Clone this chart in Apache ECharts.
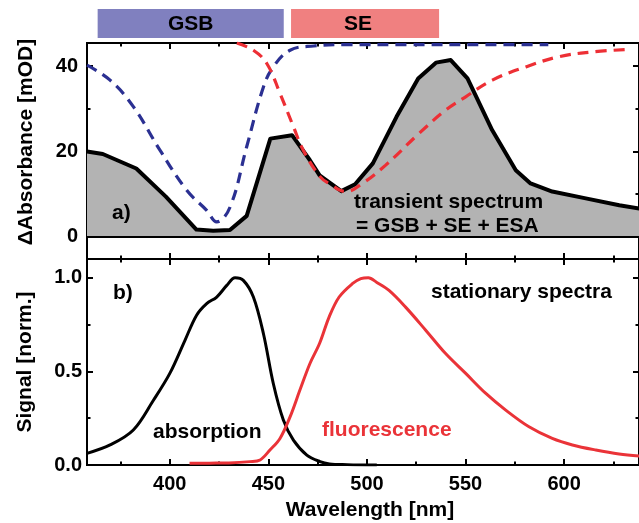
<!DOCTYPE html>
<html>
<head>
<meta charset="utf-8">
<title>Transient and stationary spectra</title>
<script src="https://cdn.jsdelivr.net/npm/echarts@6/dist/echarts.min.js"></script>
<style>
  html, body { margin: 0; padding: 0; background: #fff; }
  #chart { width: 639px; height: 523px; }
</style>
</head>
<body>
<div id="chart"></div>
<script>
// ---- data ----
// Spectral bands marked above panel a)
const bandNames = ['GSB', 'SE'];
const bandStart = [363.4, 461.5];
const bandEnd = [457.8, 536.6];

// a) transient spectrum (mOD)
const transientWl = [358, 366, 383, 398, 413.5, 422, 430.5, 439, 451, 462, 471, 476, 487, 494, 503, 515, 526, 535, 542.5, 551, 563.5, 575.5, 583, 594, 611, 628, 640];
const transientVal = [20.0, 19.4, 16.0, 9.4, 1.7, 1.4, 1.6, 4.9, 23.0, 23.8, 18.0, 14.4, 10.7, 12.3, 17.2, 28.1, 37.1, 40.8, 41.4, 37.1, 25.0, 15.6, 12.5, 10.6, 9.0, 7.4, 6.5];

// a) ground state bleach contribution (dashed blue)
const gsbWl = [358, 369.7, 381.5, 395, 408.6, 418.7, 423.8, 430.6, 439, 447.5, 452.5, 461, 473, 490, 520, 560, 592];
const gsbVal = [40.2, 36.7, 30.5, 20.3, 10.9, 6.2, 3.5, 7.0, 21.1, 35.1, 39.8, 43.7, 44.7, 45.0, 45.0, 45.0, 45.0];

// a) stimulated emission contribution (dashed red)
const seWl = [434, 442.4, 449.2, 455.9, 462.7, 467.7, 476.2, 480.8, 489.3, 497.7, 509.5, 526.4, 540, 550.1, 563.6, 580.6, 597.5, 614.4, 632];
const seVal = [45.4, 43.7, 40.6, 33.6, 25.8, 20.3, 14.1, 12.5, 10.6, 12.5, 16.8, 24.2, 29.7, 32.8, 36.7, 39.8, 42.2, 43.3, 43.9];

// b) stationary absorption (normalised)
const absWl = [358, 369.7, 381.5, 391.7, 400, 407.7, 413.6, 418.7, 423.8, 428.9, 433.1, 437.3, 442.4, 447.5, 452.5, 457.6, 462.7, 469.5, 476.2, 481, 490, 500, 505];
const absVal = [0.062, 0.107, 0.187, 0.346, 0.489, 0.666, 0.80, 0.862, 0.897, 0.959, 1.0, 0.986, 0.897, 0.701, 0.435, 0.24, 0.133, 0.053, 0.018, 0.006, 0.002, 0.0, 0.0];

// b) stationary fluorescence (normalised)
const fluoWl = [410, 420, 430, 440.7, 445.8, 450.8, 455.9, 461, 466, 471.1, 476, 480.8, 485.9, 492.6, 496.9, 500.7, 505, 511.2, 519.6, 529.8, 539.9, 550.1, 560.3, 570.4, 582.2, 594, 604.2, 616.1, 627.9, 640];
const fluoVal = [0.009, 0.01, 0.011, 0.018, 0.027, 0.08, 0.142, 0.257, 0.40, 0.542, 0.65, 0.79, 0.897, 0.968, 0.995, 1.0, 0.975, 0.932, 0.843, 0.72, 0.595, 0.489, 0.382, 0.293, 0.204, 0.142, 0.107, 0.08, 0.059, 0.046];

// axis ticks and labels
const xMajor = [400, 450, 500, 550, 600];
const xMinor = [375, 425, 475, 525, 575, 625];
const xLabels = [400, 450, 500, 550, 600];
const yTopMajor = [0, 20, 40];
const yTopMinor = [10, 30];
const yTopLabels = [0, 20, 40];
const yBotMajor = [0, 0.5, 1.0];
const yBotMinor = [0.25, 0.75];
const yBotLabels = [0, 0.5, 1.0];

// ---- helpers ----
const FONT = '"Liberation Sans", Arial, Helvetica, sans-serif';
const TEXT_FONT = 'bold 21px ' + FONT;
const zip = (xs, ys) => xs.map((x, i) => [x, ys[i]]);
const X_MIN = 358, X_MAX = 638;

function xAxis(grid, position, ticks, len, labels) {
  return {
    type: 'value', gridIndex: grid, position: position, min: X_MIN, max: X_MAX,
    axisLine: { show: true, onZero: false, lineStyle: { color: '#000', width: 2 } },
    axisTick: { show: true, inside: true, length: len, customValues: ticks,
      lineStyle: { color: '#000', width: 2 } },
    axisLabel: labels ? {
      show: true, customValues: labels, margin: 9,
      color: '#000', fontSize: 20, fontWeight: 'bold', fontFamily: FONT
    } : { show: false },
    splitLine: { show: false }
  };
}

function yAxis(grid, position, min, max, ticks, len, labels, fmt, margin) {
  return {
    type: 'value', gridIndex: grid, position: position, min: min, max: max,
    axisLine: { show: true, onZero: false, lineStyle: { color: '#000', width: 2 } },
    axisTick: { show: true, inside: true, length: len, customValues: ticks,
      lineStyle: { color: '#000', width: 2 } },
    axisLabel: labels ? {
      show: true, customValues: labels, margin: margin, formatter: fmt,
      color: '#000', fontSize: 20, fontWeight: 'bold', fontFamily: FONT
    } : { show: false },
    splitLine: { show: false }
  };
}

const bandColors = ['#8080bf', '#f08080'];
const bandTextShift = [0, -7];

const chart = echarts.init(document.getElementById('chart'), null, { renderer: 'canvas' });

const option = {
  animation: false,
  backgroundColor: '#fff',
  grid: [
    { left: 87, top: 9, width: 554, height: 29 },    // bands
    { left: 87, top: 43, width: 554, height: 216 },  // a)
    { left: 87, top: 259, width: 554, height: 206 }  // b)
  ],
  xAxis: [
    { type: 'value', gridIndex: 0, min: X_MIN, max: X_MAX, show: false },
    xAxis(1, 'bottom', xMajor, 6),          // 1
    xAxis(1, 'bottom', xMinor, 3.5),        // 2
    xAxis(1, 'top', xMajor, 6),             // 3
    xAxis(1, 'top', xMinor, 3.5),           // 4
    xAxis(2, 'bottom', xMajor, 6, xLabels), // 5
    xAxis(2, 'bottom', xMinor, 3.5),        // 6
    xAxis(2, 'top', xMajor, 6),             // 7
    xAxis(2, 'top', xMinor, 3.5)            // 8
  ],
  yAxis: [
    { type: 'value', gridIndex: 0, min: 0, max: 1, show: false },
    yAxis(1, 'left', -5.2, 45.4, yTopMajor, 6, yTopLabels, v => String(v), 9),   // 1
    yAxis(1, 'left', -5.2, 45.4, yTopMinor, 3.5),                               // 2
    yAxis(1, 'right', -5.2, 45.4, yTopMajor, 6),                                // 3
    yAxis(1, 'right', -5.2, 45.4, yTopMinor, 3.5),                              // 4
    yAxis(2, 'left', 0, 1.1, yBotMajor, 6, yBotLabels, v => v.toFixed(1), 5),   // 5
    yAxis(2, 'left', 0, 1.1, yBotMinor, 3.5),                                   // 6
    yAxis(2, 'right', 0, 1.1, yBotMajor, 6),                                    // 7
    yAxis(2, 'right', 0, 1.1, yBotMinor, 3.5)                                   // 8
  ],
  series: [
    {
      name: 'bands', type: 'custom', xAxisIndex: 0, yAxisIndex: 0,
      data: bandNames.map((n, i) => [bandStart[i], bandEnd[i]]),
      renderItem: function (params, api) {
        const i = params.dataIndex;
        const p0 = api.coord([api.value(0), 1]);
        const p1 = api.coord([api.value(1), 0]);
        return {
          type: 'rect',
          shape: { x: p0[0], y: p0[1], width: p1[0] - p0[0], height: p1[1] - p0[1] },
          style: { fill: bandColors[i] },
          textContent: {
            type: 'text',
            style: { text: bandNames[i], font: TEXT_FONT, fill: '#000' }
          },
          textConfig: { position: 'inside', offset: [bandTextShift[i], 1] }
        };
      },
      silent: true
    },
    {
      name: 'transient spectrum', type: 'line', xAxisIndex: 1, yAxisIndex: 1,
      data: zip(transientWl, transientVal),
      symbol: 'none', smooth: false,
      lineStyle: { color: '#000', width: 4, join: 'round' },
      areaStyle: { color: '#b3b3b3', opacity: 1 },
      markLine: {
        silent: true, symbol: 'none', label: { show: false },
        lineStyle: { color: '#000', width: 2, type: 'solid' },
        data: [{ yAxis: 0 }]
      },
      z: 2
    },
    {
      name: 'GSB', type: 'line', xAxisIndex: 1, yAxisIndex: 1,
      data: zip(gsbWl, gsbVal), symbol: 'none', smooth: 0.4,
      lineStyle: { color: '#2b3092', width: 3.2, type: [11, 7] },
      z: 3
    },
    {
      name: 'SE', type: 'line', xAxisIndex: 1, yAxisIndex: 1,
      data: zip(seWl, seVal), symbol: 'none', smooth: 0.4,
      lineStyle: { color: '#ed2f35', width: 3.2, type: [11, 7] },
      z: 3
    },
    {
      name: 'absorption', type: 'line', xAxisIndex: 5, yAxisIndex: 5,
      data: zip(absWl, absVal), symbol: 'none', smooth: 0.35,
      lineStyle: { color: '#000', width: 3 },
      z: 3
    },
    {
      name: 'fluorescence', type: 'line', xAxisIndex: 5, yAxisIndex: 5,
      data: zip(fluoWl, fluoVal), symbol: 'none', smooth: 0.35,
      lineStyle: { color: '#ea3338', width: 3 },
      z: 3
    }
  ],
  graphic: [
    { type: 'text', x: 26, y: 142, rotation: Math.PI / 2,
      style: { text: 'ΔAbsorbance [mOD]', font: TEXT_FONT, fill: '#000',
        textAlign: 'center', textVerticalAlign: 'middle' } },
    { type: 'text', x: 25, y: 362, rotation: Math.PI / 2,
      style: { text: 'Signal [norm.]', font: TEXT_FONT, fill: '#000',
        textAlign: 'center', textVerticalAlign: 'middle' } },
    { type: 'text', x: 370, y: 510,
      style: { text: 'Wavelength [nm]', font: TEXT_FONT, fill: '#000',
        textAlign: 'center', textVerticalAlign: 'middle' } },
    { type: 'text', x: 112, y: 213, z: 10,
      style: { text: 'a)', font: TEXT_FONT, fill: '#000',
        textAlign: 'left', textVerticalAlign: 'middle' } },
    { type: 'text', x: 354, y: 202, z: 10,
      style: { text: 'transient spectrum', font: TEXT_FONT, fill: '#000',
        textAlign: 'left', textVerticalAlign: 'middle' } },
    { type: 'text', x: 356, y: 226, z: 10,
      style: { text: '= GSB + SE + ESA', font: TEXT_FONT, fill: '#000',
        textAlign: 'left', textVerticalAlign: 'middle' } },
    { type: 'text', x: 113, y: 293, z: 10,
      style: { text: 'b)', font: TEXT_FONT, fill: '#000',
        textAlign: 'left', textVerticalAlign: 'middle' } },
    { type: 'text', x: 431, y: 292, z: 10,
      style: { text: 'stationary spectra', font: TEXT_FONT, fill: '#000',
        textAlign: 'left', textVerticalAlign: 'middle' } },
    { type: 'text', x: 153, y: 432, z: 10,
      style: { text: 'absorption', font: TEXT_FONT, fill: '#000',
        textAlign: 'left', textVerticalAlign: 'middle' } },
    { type: 'text', x: 322, y: 430, z: 10,
      style: { text: 'fluorescence', font: TEXT_FONT, fill: '#ea3338',
        textAlign: 'left', textVerticalAlign: 'middle' } }
  ]
};

chart.setOption(option);
</script>
</body>
</html>
